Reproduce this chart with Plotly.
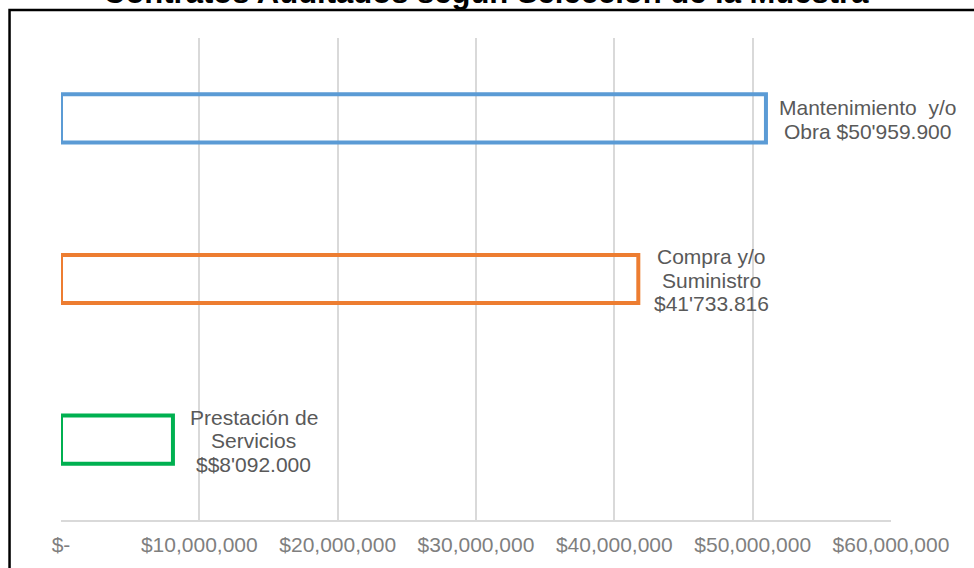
import plotly.graph_objects as go

title_text = "Contratos Auditados según Selección de la Muestra"
categories = ["Prestación de Servicios", "Compra y/o Suministro", "Mantenimiento y/o Obra"]
values = [8092000, 41733816, 50959900]
value_labels = [
    ["Prestación de", "Servicios", "$$8'092.000"],
    ["Compra y/o", "Suministro", "$41'733.816"],
    ["Mantenimiento\u00a0\u00a0y/o", "Obra $50'959.900"],
]
tick_vals = [0, 10000000, 20000000, 30000000, 40000000, 50000000, 60000000]
tick_text = ["$-", "$10,000,000", "$20,000,000", "$30,000,000",
             "$40,000,000", "$50,000,000", "$60,000,000"]

# styles
bar_colors = ["#00B050", "#ED7D31", "#5B9BD5"]
label_dx = [81, 73, 102]      # pixel offset from bar end to label block centre
LINE_H = 23.5
FONT = "Liberation Sans, Arial, sans-serif"

fig = go.Figure()
for cat, val, col in zip(categories, values, bar_colors):
    fig.add_trace(go.Bar(
        x=[val], y=[cat], orientation="h", width=0.3,
        marker=dict(color="rgba(255,255,255,0)", line=dict(color=col, width=4)),
        showlegend=False, hoverinfo="skip",
    ))

annotations = []
for cat, val, lines, dx in zip(categories, values, value_labels, label_dx):
    n = len(lines)
    for i, line in enumerate(lines):
        annotations.append(dict(
            x=val, y=cat, xref="x", yref="y", text=line, showarrow=False,
            xanchor="center", yanchor="middle", align="center",
            xshift=dx, yshift=((n - 1) / 2 - i) * LINE_H - 1,
            font=dict(family=FONT, size=21, color="#595959"),
        ))

annotations.append(dict(
    x=0.512, y=1.095, xref="paper", yref="paper", text="<b>" + title_text + "</b>",
    showarrow=False, xanchor="center", yanchor="middle",
    font=dict(family=FONT, size=31, color="#000000"),
))

fig.update_layout(
    width=974, height=568,
    margin=dict(l=61, r=83, t=38, b=48),
    paper_bgcolor="white", plot_bgcolor="white",
    barmode="overlay",
    annotations=annotations,
    shapes=[dict(type="rect", xref="paper", yref="paper",
                 x0=-0.062, x1=1.12, y0=-0.15, y1=1.058,
                 line=dict(color="black", width=2.5), fillcolor="rgba(0,0,0,0)",
                 layer="above")],
    xaxis=dict(
        range=[0, 60000000], tickvals=tick_vals, ticktext=tick_text,
        showgrid=True, gridcolor="#d9d9d9", gridwidth=2,
        zeroline=False, showline=True, linecolor="#d9d9d9", linewidth=2,
        ticks="", ticklabelstandoff=5,
        tickfont=dict(family=FONT, size=21, color="#7f7f7f"),
        fixedrange=True,
    ),
    yaxis=dict(
        categoryorder="array", categoryarray=categories,
        showticklabels=False, showgrid=False, zeroline=False, showline=False,
        ticks="", fixedrange=True,
    ),
)

fig.write_html("out.html", config={"displayModeBar": False},
               post_script="document.body.style.margin='0px';")
